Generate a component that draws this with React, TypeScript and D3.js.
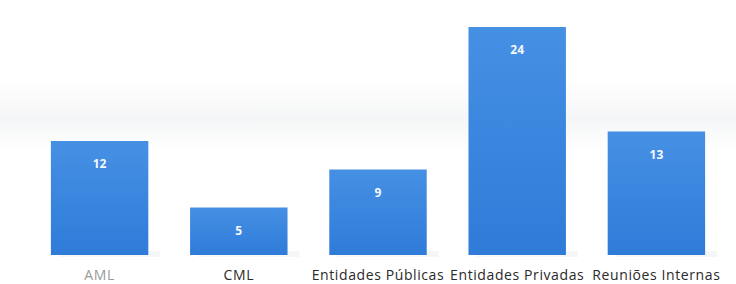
import React from "react";
import * as d3 from "d3";

const categories = ["AML", "CML", "Entidades Públicas", "Entidades Privadas", "Reuniões Internas"];
const values = [12, 5, 9, 24, 13];

const W = 736;
const H = 284;

const App = () => {
	const margin = { top: 27, right: 12, bottom: 29, left: 30 };
	const baseline = H - margin.bottom;

	const x = d3
		.scaleBand<string>()
		.domain(categories)
		.range([margin.left, W - margin.right + 2])
		.paddingInner(0.3)
		.paddingOuter(0.15);

	const y = d3.scaleLinear().domain([0, 24]).range([baseline, margin.top]);

	return (
		<svg
			width={W}
			height={H}
			style={{ position: "absolute", left: 0, top: 0, background: "#fff" }}
		>
			<defs>
				<linearGradient id="barFill" x1="0" y1="0" x2="0" y2="1">
					<stop offset="0%" stopColor="#4690e4" />
					<stop offset="100%" stopColor="#2f7bd8" />
				</linearGradient>
				<linearGradient id="haze" x1="0" y1="0" x2="0" y2="1">
					<stop offset="0%" stopColor="#ffffff" />
					<stop offset="55%" stopColor="#f5f6f7" />
					<stop offset="100%" stopColor="#ffffff" />
				</linearGradient>
			</defs>

			{/* faint background band from the scan */}
			<rect x={0} y={80} width={W} height={70} fill="url(#haze)" />

			{categories.map((c, i) => {
				const bx = x(c) ?? 0;
				const bw = x.bandwidth();
				const top = y(values[i]);
				return (
					<g key={c}>
						{/* soft shadow at the bar foot */}
						<rect
							x={bx + 8}
							y={baseline - 4}
							width={bw + 4}
							height={6}
							fill="#eceef1"
							opacity={0.5}
						/>
						<rect x={bx} y={top} width={bw} height={baseline - top} fill="url(#barFill)" />
						<text
							x={bx + bw / 2}
							y={top + 27}
							textAnchor="middle"
							fill="#f4f8ff"
							fontFamily="'Open Sans', sans-serif"
							fontWeight="bold"
							fontSize={12}
						>
							{values[i]}
						</text>
						<text
							x={bx + bw / 2}
							y={H - 4}
							textAnchor="middle"
							fill={i === 0 ? "#9a9a9a" : "#2a2a2a"}
							fontFamily="'Open Sans', sans-serif"
							fontSize={14}
							letterSpacing={0.6}
						>
							{c}
						</text>
					</g>
				);
			})}
		</svg>
	);
};

export default App;
